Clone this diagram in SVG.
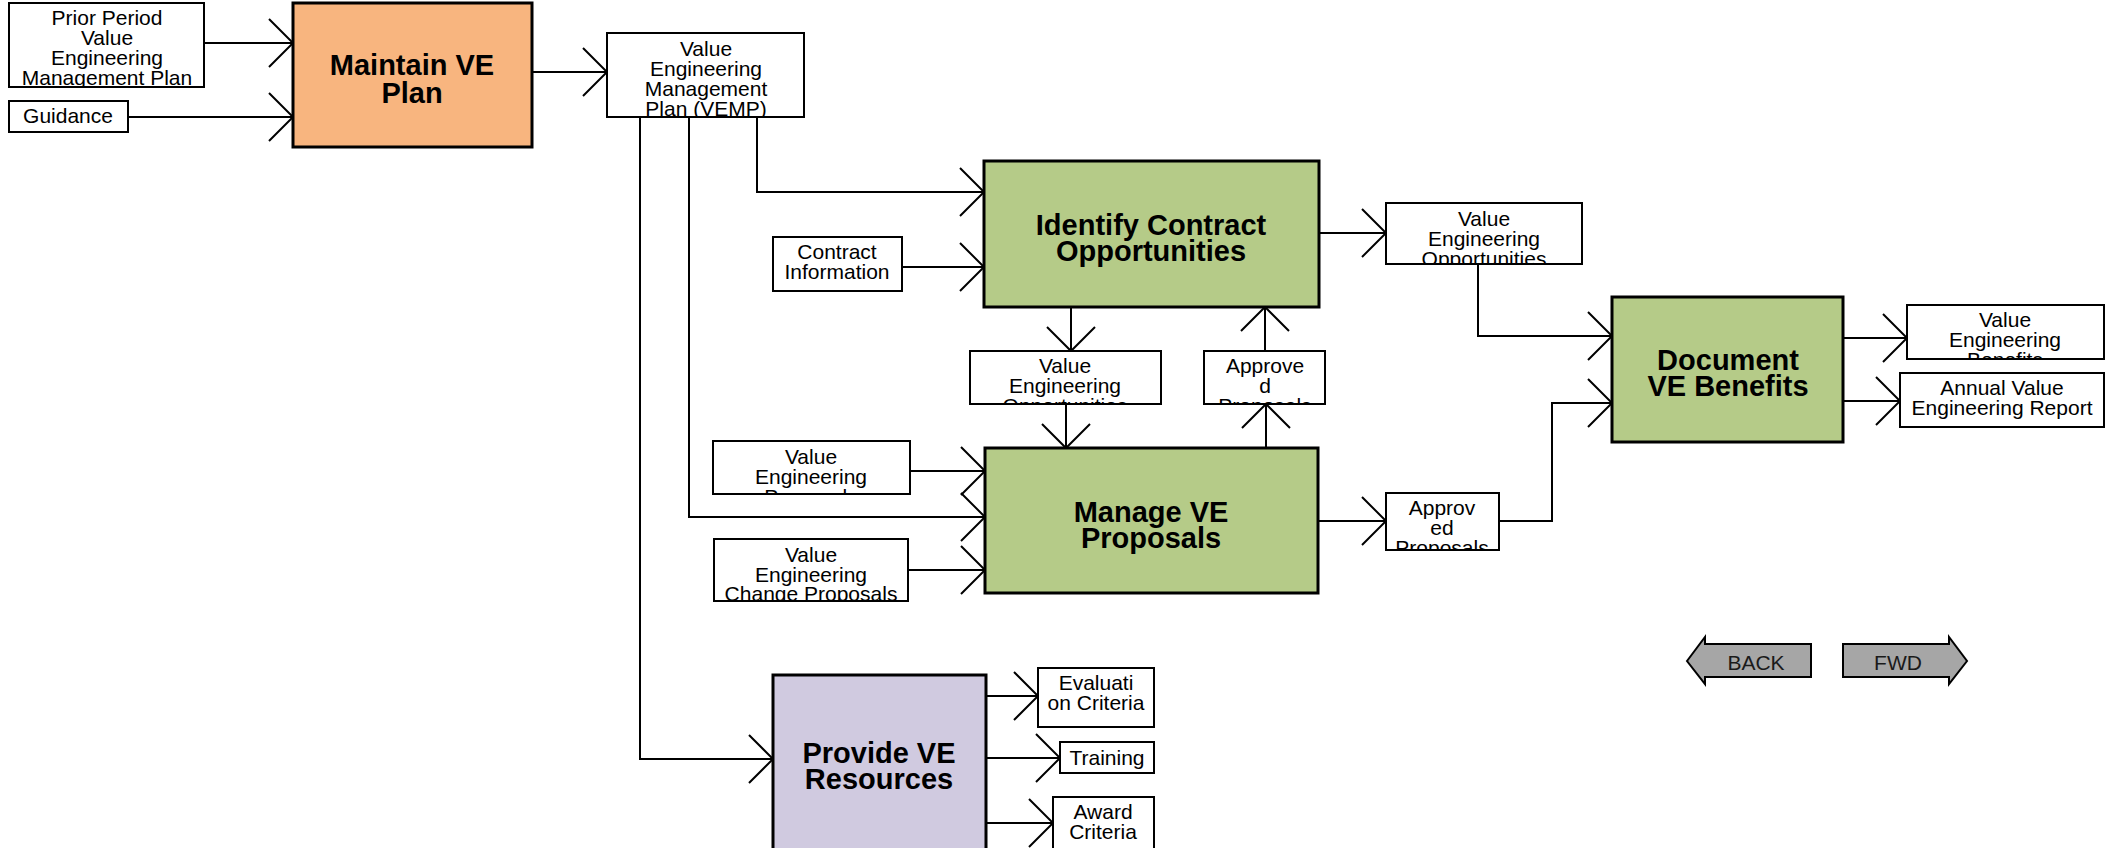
<svg xmlns="http://www.w3.org/2000/svg" width="2123" height="848" viewBox="0 0 2123 848">
<style>
.box{fill:#fff;stroke:#000;stroke-width:2}
.proc{stroke:#000;stroke-width:3}
.orange{fill:#F8B57F}
.green{fill:#B5CB88}
.lav{fill:#D0CAE0}
.t{font-family:"Liberation Sans",Arial,sans-serif;font-size:21px;fill:#000;text-anchor:middle}
.b{font-family:"Liberation Sans",Arial,sans-serif;font-size:29px;font-weight:bold;fill:#000;text-anchor:middle}
.nav{fill:#A6A6A6;stroke:#000;stroke-width:2}
.navt{font-family:"Liberation Sans",Arial,sans-serif;font-size:21px;fill:#1a1a1a;text-anchor:middle}
.c{fill:none;stroke:#000;stroke-width:2;marker-end:url(#arr)}
</style>
<defs>
<marker id="arr" markerUnits="userSpaceOnUse" markerWidth="40" markerHeight="60" viewBox="-30 -30 40 60" refX="0" refY="0" orient="auto" overflow="visible">
<path d="M-24,-24 L0,0 L-24,24" fill="none" stroke="#000" stroke-width="2"/>
</marker>
<clipPath id="cp1"><rect x="9" y="3" width="195" height="84"/></clipPath>
<clipPath id="cp2"><rect x="607" y="33" width="197" height="84"/></clipPath>
<clipPath id="cp3"><rect x="1386" y="203" width="196" height="61"/></clipPath>
<clipPath id="cp4"><rect x="970" y="351" width="191" height="53"/></clipPath>
<clipPath id="cp5"><rect x="1204" y="351" width="121" height="53"/></clipPath>
<clipPath id="cp6"><rect x="713" y="441" width="197" height="53"/></clipPath>
<clipPath id="cp7"><rect x="714" y="539" width="194" height="62"/></clipPath>
<clipPath id="cp8"><rect x="1386" y="493" width="113" height="57"/></clipPath>
<clipPath id="cp9"><rect x="1907" y="305" width="197" height="54"/></clipPath>
</defs>

<g id="connectors">
<path class="c" d="M204,43 H293"/>
<path class="c" d="M128,117 H293"/>
<path class="c" d="M532,72 H607"/>
<path class="c" d="M640,117 V759 H773"/>
<path class="c" d="M689,117 V517 H985"/>
<path class="c" d="M757,117 V192 H984"/>
<path class="c" d="M902,267 H984"/>
<path class="c" d="M1319,233 H1386"/>
<path class="c" d="M1478,264 V336 H1612"/>
<path class="c" d="M1071,307 V351"/>
<path class="c" d="M1066,404 V448"/>
<path class="c" d="M1265,351 V307"/>
<path class="c" d="M1266,448 V404"/>
<path class="c" d="M910,471 H985"/>
<path class="c" d="M908,570 H985"/>
<path class="c" d="M1318,521 H1386"/>
<path class="c" d="M1499,521 H1552 V403 H1612"/>
<path class="c" d="M1843,338 H1907"/>
<path class="c" d="M1843,401 H1900"/>
<path class="c" d="M986,696 H1038"/>
<path class="c" d="M986,758 H1060"/>
<path class="c" d="M986,823 H1053"/>
</g>

<g id="prior-vemp">
<rect class="box" x="9" y="3" width="195" height="84"/>
<g clip-path="url(#cp1)">
<text class="t" x="107" y="25">Prior Period</text>
<text class="t" x="107" y="45">Value</text>
<text class="t" x="107" y="65">Engineering</text>
<text class="t" x="107" y="85">Management Plan</text>
</g>
</g>

<g id="guidance">
<rect class="box" x="9" y="101" width="119" height="31"/>
<text class="t" x="68" y="123">Guidance</text>
</g>

<g id="maintain-ve-plan">
<rect class="proc orange" x="293" y="3" width="239" height="144"/>
<text class="b" x="412" y="75">Maintain VE</text>
<text class="b" x="412" y="103">Plan</text>
</g>

<g id="vemp">
<rect class="box" x="607" y="33" width="197" height="84"/>
<g clip-path="url(#cp2)">
<text class="t" x="706" y="56">Value</text>
<text class="t" x="706" y="76">Engineering</text>
<text class="t" x="706" y="96">Management</text>
<text class="t" x="706" y="116">Plan (VEMP)</text>
</g>
</g>

<g id="identify-contract-opportunities">
<rect class="proc green" x="984" y="161" width="335" height="146"/>
<text class="b" x="1151" y="235">Identify Contract</text>
<text class="b" x="1151" y="261">Opportunities</text>
</g>

<g id="contract-information">
<rect class="box" x="773" y="237" width="129" height="54"/>
<text class="t" x="837" y="259">Contract</text>
<text class="t" x="837" y="279">Information</text>
</g>

<g id="ve-opportunities-out">
<rect class="box" x="1386" y="203" width="196" height="61"/>
<g clip-path="url(#cp3)">
<text class="t" x="1484" y="226">Value</text>
<text class="t" x="1484" y="246">Engineering</text>
<text class="t" x="1484" y="266">Opportunities</text>
</g>
</g>

<g id="ve-opportunities-mid">
<rect class="box" x="970" y="351" width="191" height="53"/>
<g clip-path="url(#cp4)">
<text class="t" x="1065" y="373">Value</text>
<text class="t" x="1065" y="393">Engineering</text>
<text class="t" x="1065" y="413">Opportunities</text>
</g>
</g>

<g id="approved-proposals-mid">
<rect class="box" x="1204" y="351" width="121" height="53"/>
<g clip-path="url(#cp5)">
<text class="t" x="1265" y="373">Approve</text>
<text class="t" x="1265" y="393">d</text>
<text class="t" x="1265" y="413">Proposals</text>
</g>
</g>

<g id="ve-proposals">
<rect class="box" x="713" y="441" width="197" height="53"/>
<g clip-path="url(#cp6)">
<text class="t" x="811" y="464">Value</text>
<text class="t" x="811" y="484">Engineering</text>
<text class="t" x="811" y="504">Proposals</text>
</g>
</g>

<g id="ve-change-proposals">
<rect class="box" x="714" y="539" width="194" height="62"/>
<g clip-path="url(#cp7)">
<text class="t" x="811" y="562">Value</text>
<text class="t" x="811" y="582">Engineering</text>
<text class="t" x="811" y="601">Change Proposals</text>
</g>
</g>

<g id="manage-ve-proposals">
<rect class="proc green" x="985" y="448" width="333" height="145"/>
<text class="b" x="1151" y="522">Manage VE</text>
<text class="b" x="1151" y="548">Proposals</text>
</g>

<g id="approved-proposals-out">
<rect class="box" x="1386" y="493" width="113" height="57"/>
<g clip-path="url(#cp8)">
<text class="t" x="1442" y="515">Approv</text>
<text class="t" x="1442" y="535">ed</text>
<text class="t" x="1442" y="555">Proposals</text>
</g>
</g>

<g id="document-ve-benefits">
<rect class="proc green" x="1612" y="297" width="231" height="145"/>
<text class="b" x="1728" y="370">Document</text>
<text class="b" x="1728" y="396">VE Benefits</text>
</g>

<g id="ve-benefits">
<rect class="box" x="1907" y="305" width="197" height="54"/>
<g clip-path="url(#cp9)">
<text class="t" x="2005" y="327">Value</text>
<text class="t" x="2005" y="347">Engineering</text>
<text class="t" x="2005" y="367">Benefits</text>
</g>
</g>

<g id="annual-ve-report">
<rect class="box" x="1900" y="373" width="204" height="54"/>
<text class="t" x="2002" y="395">Annual Value</text>
<text class="t" x="2002" y="415">Engineering Report</text>
</g>

<g id="provide-ve-resources">
<rect class="proc lav" x="773" y="675" width="213" height="190"/>
<text class="b" x="879" y="763">Provide VE</text>
<text class="b" x="879" y="789">Resources</text>
</g>

<g id="evaluation-criteria">
<rect class="box" x="1038" y="668" width="116" height="59"/>
<text class="t" x="1096" y="690">Evaluati</text>
<text class="t" x="1096" y="710">on Criteria</text>
</g>

<g id="training">
<rect class="box" x="1060" y="742" width="94" height="31"/>
<text class="t" x="1107" y="765">Training</text>
</g>

<g id="award-criteria">
<rect class="box" x="1053" y="797" width="101" height="65"/>
<text class="t" x="1103" y="819">Award</text>
<text class="t" x="1103" y="839">Criteria</text>
</g>

<g id="back-button">
<polygon class="nav" points="1687,661 1705,637 1705,644 1811,644 1811,677 1705,677 1705,684"/>
<text class="navt" x="1756" y="670">BACK</text>
</g>

<g id="fwd-button">
<polygon class="nav" points="1843,644 1949,644 1949,637 1967,661 1949,684 1949,677 1843,677"/>
<text class="navt" x="1898" y="670">FWD</text>
</g>
</svg>
